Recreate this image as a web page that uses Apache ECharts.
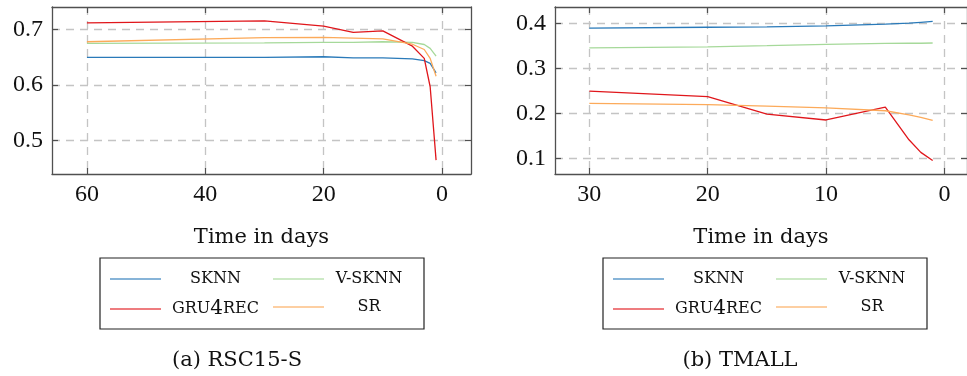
<!DOCTYPE html>
<html><head><meta charset="utf-8">
<script src="https://cdn.jsdelivr.net/npm/echarts@6/dist/echarts.min.js"></script>
<style>html,body{margin:0;padding:0;background:#fff}#c{width:967px;height:376px}</style>
</head><body><div id="c"></div>
<script>
// ---- data ----
const seriesNames = ['SKNN', 'V-SKNN', 'GRU4REC', 'SR'];
const seriesColors = ['#2a7ab9', '#a6d99a', '#e0161b', '#fcaa5a'];

const rscDays = [60, 30, 20, 15, 10, 5, 3, 2, 1];
const rscSKNN = [0.650, 0.650, 0.651, 0.649, 0.649, 0.647, 0.644, 0.639, 0.622];
const rscVSKNN = [0.675, 0.676, 0.677, 0.677, 0.678, 0.677, 0.673, 0.666, 0.652];
const rscGRU4REC = [0.712, 0.7155, 0.706, 0.695, 0.6975, 0.670, 0.648, 0.597, 0.465];
const rscSR = [0.678, 0.6855, 0.686, 0.6845, 0.683, 0.6735, 0.664, 0.648, 0.616];

const tmDays = [30, 20, 15, 10, 5, 3, 2, 1];
const tmSKNN = [0.389, 0.391, 0.392, 0.394, 0.398, 0.400, 0.402, 0.404];
const tmVSKNN = [0.345, 0.3475, 0.350, 0.353, 0.355, 0.3555, 0.3555, 0.356];
const tmGRU4REC = [0.249, 0.237, 0.198, 0.185, 0.2135, 0.141, 0.113, 0.095];
const tmSR = [0.222, 0.219, 0.216, 0.212, 0.2055, 0.1965, 0.191, 0.184];

const rscXTicks = [0, 20, 40, 60];
const rscYTicks = [0.5, 0.6, 0.7];
const tmXTicks = [0, 10, 20, 30];
const tmYTicks = [0.1, 0.2, 0.3, 0.4];

const xAxisTitle = 'Time in days';
const captions = ['(a) RSC15-S', '(b) TMALL'];

// ---- styling ----
const TXT = 'DejaVu Serif';
const NUM = 'Liberation Serif';
const axisColor = '#505050';
const gridDash = { type: [8, 6], color: '#c4c4c4', width: 1.3 };

function xAxes(gi, min, max, ticks) {
  const common = {
    gridIndex: gi, type: 'value', inverse: true, min: min, max: max,
    axisLine: { show: true, onZero: false, lineStyle: { color: axisColor, width: 1.3 } },
    axisTick: { show: true, inside: true, length: 6, customValues: ticks, lineStyle: { color: axisColor, width: 1.2 } }
  };
  return [
    Object.assign({}, common, {
      position: 'bottom',
      axisLabel: { show: true, customValues: ticks, margin: 9, fontFamily: NUM, fontSize: 24, color: '#111',
        formatter: v => String(Math.round(v)) },
      splitLine: { show: true, lineStyle: gridDash },
      name: xAxisTitle, nameLocation: 'middle', nameGap: 53,
      nameTextStyle: { fontFamily: TXT, fontSize: 21, color: '#111' }
    }),
    Object.assign({}, common, {
      position: 'top', axisLabel: { show: false }, splitLine: { show: false }
    })
  ];
}
function yAxes(gi, min, max, ticks) {
  const common = {
    gridIndex: gi, type: 'value', min: min, max: max,
    axisLine: { show: true, onZero: false, lineStyle: { color: axisColor, width: 1.3 } },
    axisTick: { show: true, inside: true, length: 6, customValues: ticks, lineStyle: { color: axisColor, width: 1.2 } }
  };
  return [
    Object.assign({}, common, {
      position: 'left',
      axisLabel: { show: true, customValues: ticks, margin: 9, fontFamily: NUM, fontSize: 24, color: '#111',
        formatter: v => v.toFixed(1) },
      splitLine: { show: true, lineStyle: gridDash }
    }),
    Object.assign({}, common, {
      position: 'right', axisLabel: { show: false }, splitLine: { show: false }
    })
  ];
}

function zip(xs, ys) { return xs.map((x, i) => [x, ys[i]]); }

const rscSets = [rscSKNN, rscVSKNN, rscGRU4REC, rscSR];
const tmSets = [tmSKNN, tmVSKNN, tmGRU4REC, tmSR];

const series = [];
seriesNames.forEach((n, i) => {
  series.push({ name: n, type: 'line', xAxisIndex: 0, yAxisIndex: 0, data: zip(rscDays, rscSets[i]),
    symbol: 'none', showSymbol: false, color: seriesColors[i], lineStyle: { width: 1.3, color: seriesColors[i] }, z: 3 });
});
seriesNames.forEach((n, i) => {
  series.push({ name: n, type: 'line', xAxisIndex: 2, yAxisIndex: 2, data: zip(tmDays, tmSets[i]),
    symbol: 'none', showSymbol: false, color: seriesColors[i], lineStyle: { width: 1.3, color: seriesColors[i] }, z: 3 });
});

const richSC = {
  s: { fontFamily: TXT, fontSize: 16, color: '#111', align: 'center', verticalAlign: 'middle' },
  b: { fontFamily: TXT, fontSize: 20, color: '#111', align: 'center', verticalAlign: 'middle' }
};
function legendLabel(name) {
  if (name === 'GRU4REC') return '{s|GRU}{b|4}{s|REC}';
  return '{s|' + name + '}';
}
// one legend per entry
function legendItem(name, left, top, w) {
  return {
    orient: 'vertical', left: left, top: top, padding: 0, itemGap: 0,
    itemWidth: 51, itemHeight: 28, icon: 'path://M0,0H51V1.7H0Z',
    data: [name], formatter: legendLabel, selectedMode: false,
    itemStyle: { opacity: 0.75 },
    textStyle: { width: w, fontFamily: TXT, fontSize: 16, color: '#111', rich: richSC }
  };
}
const legendCols = [110, 273];
const legendRows = [271, 299];
const legendWidths = [99, 80];
const legendOrder = [['SKNN', 'V-SKNN'], ['GRU4REC', 'SR']];
const legends = [];
[0, 503].forEach(off => {
  legendOrder.forEach((row, r) => {
    row.forEach((name, c) => {
      legends.push(legendItem(name, legendCols[c] + off, legendRows[r], legendWidths[c]));
    });
  });
});

const option = {
  animation: false,
  backgroundColor: '#fff',
  grid: [
    { left: 52, top: 7, width: 419, height: 167 },
    { left: 555, top: 7, width: 419, height: 167 }
  ],
  xAxis: [].concat(xAxes(0, -4.9, 65.9, rscXTicks), xAxes(1, -1.9, 32.9, tmXTicks)),
  yAxis: [].concat(yAxes(0, 0.44, 0.7405, rscYTicks), yAxes(1, 0.065, 0.436, tmYTicks)),
  legend: legends,
  graphic: [
    { type: 'rect', shape: { x: 100, y: 258, width: 324, height: 71 }, style: { fill: 'none', stroke: '#222', lineWidth: 1.2 }, silent: true },
    { type: 'rect', shape: { x: 603, y: 258, width: 324, height: 71 }, style: { fill: 'none', stroke: '#222', lineWidth: 1.2 }, silent: true },
    { type: 'text', x: 237, y: 361, silent: true,
      style: { text: captions[0], align: 'center', verticalAlign: 'middle', fontFamily: TXT, fontSize: 21, fill: '#111' } },
    { type: 'text', x: 740, y: 361, silent: true,
      style: { text: captions[1], align: 'center', verticalAlign: 'middle', fontFamily: TXT, fontSize: 21, fill: '#111' } }
  ],
  series: series
};

const chart = echarts.init(document.getElementById('c'), null, { renderer: 'canvas' });
chart.setOption(option);
</script>
</body></html>
